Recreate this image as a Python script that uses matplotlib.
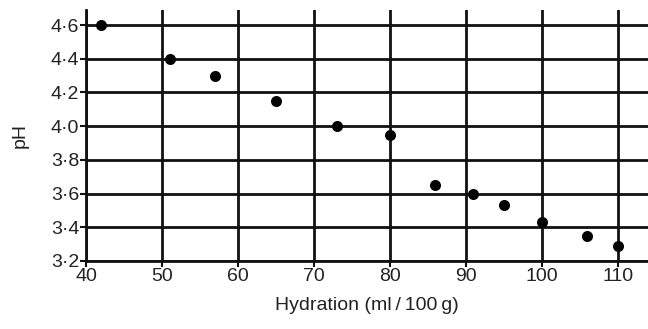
import matplotlib
matplotlib.use("Agg")
import matplotlib.pyplot as plt

plt.rcParams['font.family'] = ['Liberation Sans', 'DejaVu Sans']

# data
hydration = [42, 51, 57, 65, 73, 80, 86, 91, 95, 100, 106, 110]
ph = [4.60, 4.40, 4.30, 4.15, 4.00, 3.95, 3.65, 3.60, 3.53, 3.43, 3.35, 3.29]

x_ticks = [40, 50, 60, 70, 80, 90, 100, 110]
y_ticks = [3.2, 3.4, 3.6, 3.8, 4.0, 4.2, 4.4, 4.6]
y_labels = ['3·2', '3·4', '3·6', '3·8', '4·0', '4·2', '4·4', '4·6']


def main():
    fig = plt.figure(figsize=(6.48, 3.29), dpi=100)
    ax = fig.add_axes([0.133, 0.207, 0.867, 0.763])

    ax.set_xlim(40, 114)
    ax.set_ylim(3.2, 4.69)

    ax.set_xticks(x_ticks)
    ax.set_yticks(y_ticks)
    ax.set_yticklabels(y_labels)

    ax.grid(True, color='#111111', linewidth=2.0)
    ax.set_axisbelow(True)

    for s in ['top', 'right']:
        ax.spines[s].set_visible(False)
    for s in ['left', 'bottom']:
        ax.spines[s].set_linewidth(2.0)
        ax.spines[s].set_color('#111111')

    ax.tick_params(axis='both', length=4, width=1.5, color='#111111',
                   labelsize=14, labelcolor='#222222', pad=1)

    ax.scatter(hydration, ph, s=48, color='black', zorder=3, clip_on=False)

    ax.set_xlabel('Hydration (ml\u2009/\u2009100\u2009g)', fontsize=14,
                  color='#222222', labelpad=9)
    ax.set_ylabel('pH', fontsize=14, color='#222222', labelpad=16)

    fig.savefig('out.png', dpi=100)


if __name__ == "__main__": main()
